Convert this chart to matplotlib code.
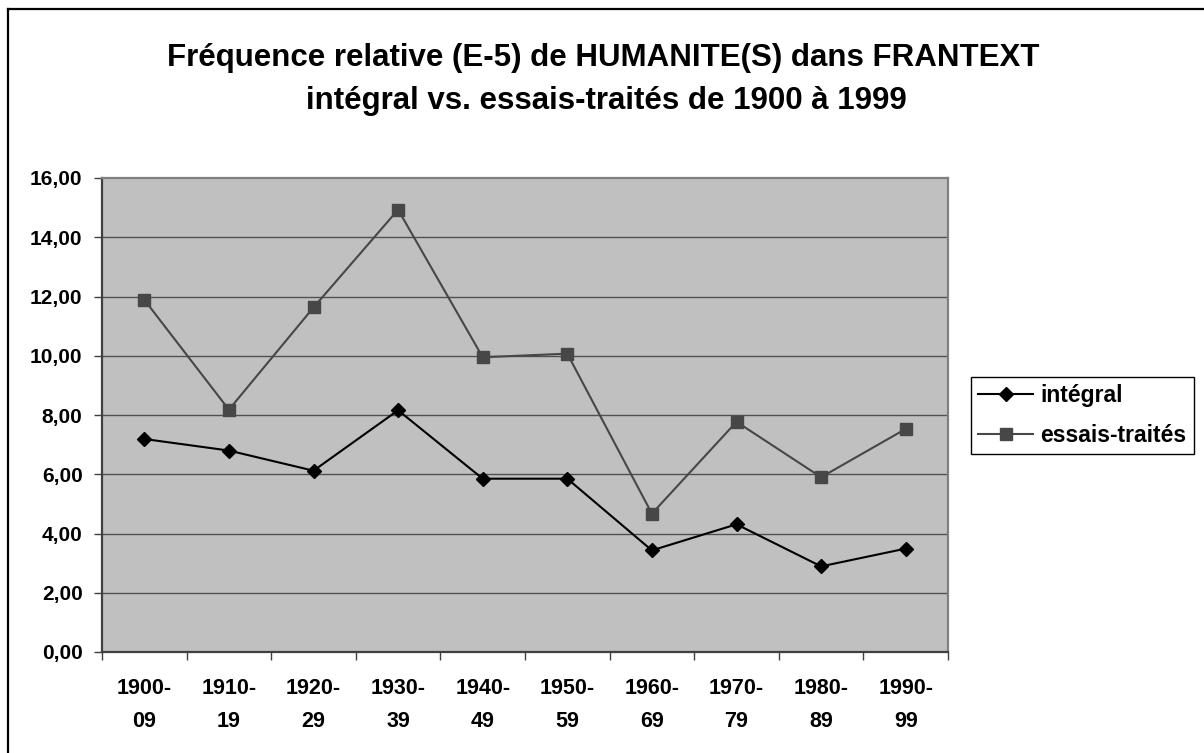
import matplotlib
matplotlib.use("Agg")
import matplotlib.pyplot as plt
from matplotlib.lines import Line2D

plt.rcParams['font.family'] = ['Liberation Sans', 'DejaVu Sans']

categories = ["1900-\n09", "1910-\n19", "1920-\n29", "1930-\n39", "1940-\n49",
              "1950-\n59", "1960-\n69", "1970-\n79", "1980-\n89", "1990-\n99"]
integral = [7.19, 6.80, 6.12, 8.16, 5.85, 5.85, 3.43, 4.31, 2.89, 3.49]
essais = [11.89, 8.18, 11.63, 14.93, 9.95, 10.07, 4.67, 7.77, 5.90, 7.53]
yticks = [0, 2, 4, 6, 8, 10, 12, 14, 16]
ytick_labels = ["0,00", "2,00", "4,00", "6,00", "8,00", "10,00", "12,00", "14,00", "16,00"]
title1 = "Fréquence relative (E-5) de HUMANITE(S) dans FRANTEXT"
title2 = "intégral vs. essais-traités de 1900 à 1999"

W, H = 1204, 753
fig = plt.figure(figsize=(W / 100, H / 100), dpi=100)
fig.patch.set_facecolor('white')

# outer frame (left and top visible)
fig.add_artist(Line2D([8 / W, 8 / W], [0, 1 - 9 / H], transform=fig.transFigure,
                      color='black', lw=1.6))
fig.add_artist(Line2D([8 / W, 1], [1 - 9 / H, 1 - 9 / H], transform=fig.transFigure,
                      color='black', lw=1.6))

ax = fig.add_axes([102 / W, 1 - 652 / H, (948 - 102) / W, (652 - 178) / H])
ax.set_facecolor('#c0c0c0')

x = list(range(len(categories)))
ax.plot(x, integral, color='black', lw=1.5, marker='D', markersize=7.5,
        markerfacecolor='black', markeredgecolor='black', label='intégral', zorder=4)
ax.plot(x, essais, color='#474747', lw=1.5, marker='s', markersize=8,
        markerfacecolor='#474747', markeredgecolor='#474747', label='essais-traités', zorder=3)

ax.set_xlim(-0.5, len(categories) - 0.5)
ax.set_ylim(0, 16)

ax.set_yticks(yticks)
ax.set_yticklabels(ytick_labels, fontsize=15, fontweight='bold')
for yv in yticks[1:-1]:
    ax.axhline(yv, color='#505050', lw=1.0, zorder=1)

ax.set_xticks([i - 0.5 for i in range(len(categories) + 1)])
ax.set_xticklabels([])
ax.set_xticks(x, minor=True)
ax.set_xticklabels(categories, minor=True, fontsize=15.5, fontweight='bold', linespacing=1.75)
ax.tick_params(axis='x', which='minor', length=0, pad=19)
ax.tick_params(axis='x', which='major', length=6, width=1, color='#404040', direction='out')
ax.tick_params(axis='y', length=6, width=1, color='#404040', direction='out', pad=8)

for side in ['left', 'bottom']:
    ax.spines[side].set_color('#404040')
    ax.spines[side].set_linewidth(1.6)
for side in ['right', 'top']:
    ax.spines[side].set_color('#808080')
    ax.spines[side].set_linewidth(1.6)

fig.text(603 / W, 1 - 66 / H, title1, ha='center', va='baseline',
         fontsize=22.5, fontweight='bold')
fig.text(606 / W, 1 - 109 / H, title2, ha='center', va='baseline',
         fontsize=22.5, fontweight='bold')

leg = fig.legend(loc='upper left', bbox_to_anchor=(971 / W, 1 - 377 / H),
                 bbox_transform=fig.transFigure,
                 prop={'size': 16.5, 'weight': 'bold'}, frameon=True, fancybox=False,
                 edgecolor='black', framealpha=1, handlelength=2.4, handletextpad=0.3,
                 borderpad=0.32, labelspacing=0.72, borderaxespad=0)
leg.get_frame().set_linewidth(1.0)

fig.savefig('out.png', dpi=100)
